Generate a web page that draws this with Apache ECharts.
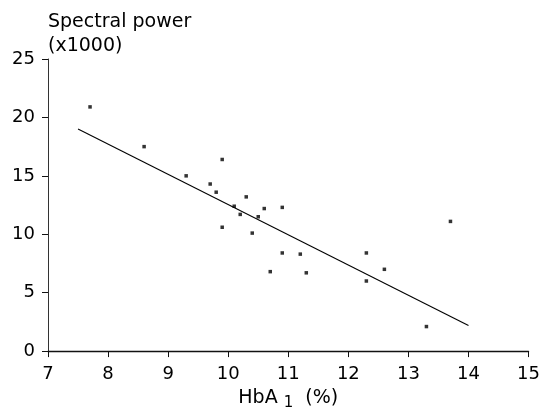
<!DOCTYPE html>
<html>
<head>
<meta charset="utf-8">
<script src="https://cdn.jsdelivr.net/npm/echarts@6/dist/echarts.min.js"></script>
<style>
  html, body { margin: 0; padding: 0; background: #fff; }
  #chart { width: 543px; height: 416px; }
</style>
</head>
<body>
<div id="chart"></div>
<script>
// HbA1 (%) 与 spectral power (x1000) 的散点
const hba1 = [7.7, 8.6, 9.3, 9.9, 9.7, 9.8, 10.3, 10.1, 10.2, 10.6, 10.9, 10.5, 9.9, 10.4, 10.9, 11.2, 12.3, 10.7, 11.3, 12.3, 13.7, 12.6, 13.3];
const power = [20.9, 17.5, 15.0, 16.4, 14.3, 13.6, 13.2, 12.4, 11.7, 12.2, 12.3, 11.5, 10.6, 10.1, 8.4, 8.3, 8.4, 6.8, 6.7, 6.0, 11.1, 7.0, 2.1];
// 回归线两端
const fitX = [7.5, 14];
const fitY = [19.0, 2.2];
const xTicks = [7, 15, 1];
const yTicks = [0, 25, 5];

const font = 'DejaVu Sans';

let chart = echarts.init(document.getElementById('chart'), null, { renderer: 'canvas' });

let option = {
  backgroundColor: '#fff',
  animation: false,
  title: {
    text: 'Spectral power\n(x1000)',
    left: 43,
    top: 5,
    textStyle: { fontFamily: font, fontSize: 19, fontWeight: 'normal', color: '#000', lineHeight: 24 }
  },
  grid: { left: 48, right: 12, top: 59, bottom: 61.5 },
  xAxis: {
    type: 'value',
    min: xTicks[0],
    max: xTicks[1],
    interval: xTicks[2],
    name: '{a|HbA }{sub|1}{a|  (%)}',
    nameLocation: 'middle',
    nameGap: 32,
    nameTextStyle: {
      rich: {
        a: { fontFamily: font, fontSize: 19, color: '#000', verticalAlign: 'top', lineHeight: 22 },
        sub: { fontFamily: font, fontSize: 15, color: '#000', padding: [8, 0, 0, 0], lineHeight: 22 }
      }
    },
    axisLine: { lineStyle: { color: '#111', width: 1.3 } },
    axisTick: { length: 6, lineStyle: { color: '#111' } },
    axisLabel: { fontFamily: font, fontSize: 18, color: '#000', margin: 14 },
    splitLine: { show: false }
  },
  yAxis: {
    type: 'value',
    min: yTicks[0],
    max: yTicks[1],
    interval: yTicks[2],
    axisLine: { show: true, lineStyle: { color: '#333', width: 1 } },
    axisTick: { show: true, length: 6, lineStyle: { color: '#111' } },
    axisLabel: { fontFamily: font, fontSize: 18, color: '#000', margin: 13 },
    splitLine: { show: false }
  },
  series: [
    {
      type: 'scatter',
      symbol: 'rect',
      symbolSize: 3.5,
      itemStyle: { color: '#000' },
      data: hba1.map((x, i) => [x, power[i]])
    },
    {
      type: 'line',
      showSymbol: false,
      lineStyle: { color: '#000', width: 1.1 },
      data: fitX.map((x, i) => [x, fitY[i]])
    }
  ]
};

chart.setOption(option);
</script>
</body>
</html>
